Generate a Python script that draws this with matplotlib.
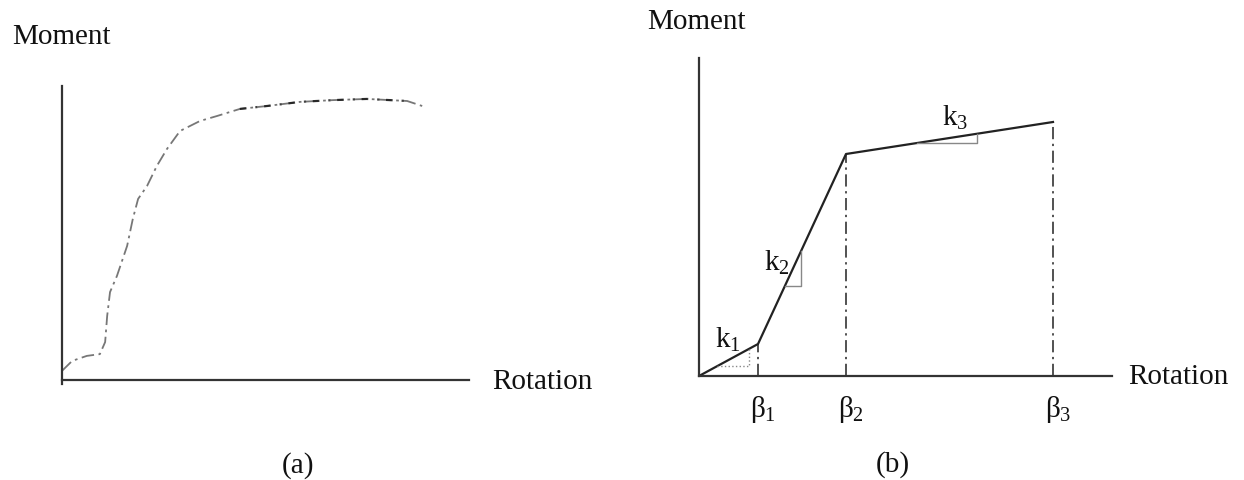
import numpy as np
import matplotlib
matplotlib.use('Agg')
import matplotlib.pyplot as plt

plt.rcParams['font.family'] = ['Liberation Serif', 'DejaVu Serif']
plt.rcParams['mathtext.fontset'] = 'custom'
plt.rcParams['mathtext.rm'] = 'Liberation Serif'
plt.rcParams['mathtext.it'] = 'Liberation Serif'

# (a) measured moment-rotation curve
rot_a = [0.0, 0.25, 0.61, 0.93, 1.06, 1.11, 1.18, 1.35, 1.60, 1.74, 1.87, 2.09,
         2.33, 2.58, 2.90, 3.39, 3.81, 4.37, 5.04, 5.85, 6.66, 7.49, 8.48, 8.85]
mom_a = [0.31, 0.65, 0.82, 0.88, 1.29, 2.18, 2.99, 3.54, 4.56, 5.48, 6.16, 6.60,
         7.28, 7.86, 8.47, 8.81, 8.98, 9.22, 9.32, 9.46, 9.52, 9.56, 9.49, 9.32]

# (b) trilinear idealisation
beta = [0, 59, 147, 354]
mom_b = [0, 32, 222, 254]
beta_labels = [r'$\beta_1$', r'$\beta_2$', r'$\beta_3$']
k_labels = [r'$\mathrm{k}_1$', r'$\mathrm{k}_2$', r'$\mathrm{k}_3$']
k_label_pos = [(29, 37), (78, 114), (256, 259)]
# bottom of each slope triangle (moment level) and horizontal leg length
tri_level = [10, 90, 233]
tri_run = [32, 16, 60]

W, H = 1244, 481
fig = plt.figure(figsize=(W / 100, H / 100), dpi=100)
txt = '#111111'
fs = 21


def add_axes(x0, y_axis, x1, y_top):
    ax = fig.add_axes([x0 / W, (H - y_axis) / H, (x1 - x0) / W, (y_axis - y_top) / H])
    for s in ['top', 'right']:
        ax.spines[s].set_visible(False)
    for s in ['left', 'bottom']:
        ax.spines[s].set_linewidth(1.6)
        ax.spines[s].set_color('#333333')
    ax.set_xticks([])
    ax.set_yticks([])
    ax.patch.set_alpha(0)
    return ax


# ---- (a)
ax1 = add_axes(62, 381, 469, 87)
ax1.set_xlim(0, 10)
ax1.set_ylim(0, 10)
ax1.spines['left'].set_bounds(-0.14, 10)
ax1.plot(rot_a, mom_a, color='#777777', lw=1.3, ls=(0, (7, 2.5, 1.5, 2.5)))
# heavier ink along the plateau
ax1.plot(rot_a[17:23], mom_a[17:23], color='#111111', lw=1.6, ls=(0, (3, 4, 1, 3)), alpha=0.8)
ax1.text(-1.23, 11.7, 'Moment', fontsize=fs, color=txt, ha='left', va='center', clip_on=False)
ax1.text(10.57, -0.03, 'Rotation', fontsize=fs, color=txt, ha='left', va='center', clip_on=False)
ax1.text(5.8, -2.86, '(a)', fontsize=fs, color=txt, ha='center', va='center', clip_on=False)

# ---- (b)
ax2 = add_axes(699, 377, 1112, 59)
ax2.set_xlim(0, 413)
ax2.set_ylim(0, 318)
ax2.plot(beta, mom_b, color='#222222', lw=1.6)
for b, m, lab in zip(beta[1:], mom_b[1:], beta_labels):
    ax2.plot([b, b], [0, m], color='#222222', lw=1.1, ls=(0, (8, 3, 1.5, 3)))
    ax2.text(b + 5, -33, lab, fontsize=fs, color=txt, ha='center', va='center', clip_on=False)

for i in range(3):
    x0, x1 = beta[i], beta[i + 1]
    y0, y1 = mom_b[i], mom_b[i + 1]
    slope = (y1 - y0) / (x1 - x0)
    lv = tri_level[i]
    xs = x0 + (lv - y0) / slope
    xe = xs + tri_run[i]
    ye = y0 + (xe - x0) * slope
    ax2.plot([xs, xe, xe], [lv, lv, ye], color='#888888', lw=1.0,
             ls=':' if i == 0 else '-')
    ax2.text(*k_label_pos[i], k_labels[i], fontsize=fs, color=txt, ha='center', va='center')

ax2.text(-52, 355, 'Moment', fontsize=fs, color=txt, ha='left', va='center', clip_on=False)
ax2.text(429, 0, 'Rotation', fontsize=fs, color=txt, ha='left', va='center', clip_on=False)
ax2.text(194, -88, '(b)', fontsize=fs, color=txt, ha='center', va='center', clip_on=False)

fig.savefig('out.png', dpi=100)
